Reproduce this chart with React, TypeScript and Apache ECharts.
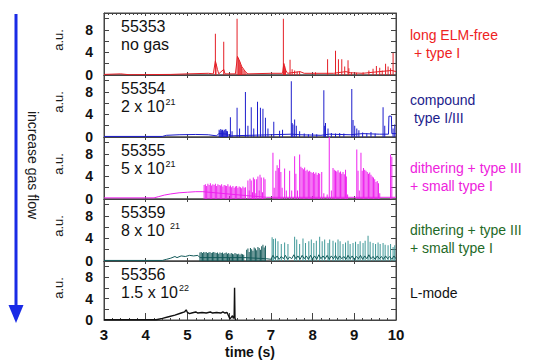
import React, { useEffect, useRef } from "react";
import * as echarts from "echarts";

const FONT = "'Liberation Sans', Arial, Helvetica, sans-serif";

// x axis (time, s)
const xMin = 3;
const xMax = 10;
const yTickLabels = [0, 4, 8];

// ---- panel 1: 55353, no gas (red)
const base1: number[][] = [[3.0,0.1],[3.4,0.2],[3.6,0.05],[4.6,0.1],[5.0,0.2],[5.5,0.3],[5.62,0.2],[5.67,2.5],[5.72,1.0],[5.75,0.2],[5.87,1.0],[5.9,0.2],[6.15,0.2],[6.2,3.3],[6.25,2.5],[6.3,1.5],[6.35,1.0],[6.4,0.5],[6.45,0.2],[7.0,0.3],[7.28,0.3],[7.31,2.0],[7.36,0.8],[7.4,0.3],[7.7,0.6],[7.8,0.3],[8.5,0.3],[8.8,0.6],[8.9,0.4],[9.2,0.3],[9.6,0.6],[9.9,0.8],[10,0.6]];
const spikes1: number[][] = [[5.67,7.3],[5.685,2.0],[5.87,5.9],[6.19,10.0],[6.22,3.0],[6.24,2.6],[6.26,2.2],[6.28,1.8],[6.3,1.5],[6.33,1.1],[6.36,0.8],[6.4,0.5],[7.30,10.0],[7.31,2.1],[7.33,1.6],[7.35,1.0],[7.46,2.7],[7.51,1.0],[7.57,0.8],[7.63,0.6],[7.69,0.6],[8.07,0.5],[8.36,2.8],[8.55,4.3],[8.62,2.8],[8.70,2.8],[8.77,1.5],[8.85,2.6],[8.87,1.2],[8.93,0.5],[9.05,0.4],[9.21,0.5],[9.35,0.8],[9.45,1.1],[9.53,1.6],[9.61,1.3],[9.67,0.8],[9.75,2.0],[9.81,1.5],[9.87,1.2],[9.93,3.9]];

// ---- panel 2: 55354, 2 x 10^21 (blue)
const base2: number[][] = [[3.0,0.1],[4.4,0.1],[4.5,0.3],[4.8,0.4],[5.2,0.45],[5.5,0.4],[5.7,0.2],[5.75,0.6],[5.97,0.5],[6.0,0.2],[7.5,0.5],[7.7,0.4],[8.2,0.3],[8.4,0.5],[8.9,0.4],[9.2,0.6],[9.6,0.5],[9.82,0.5],[9.83,3.7],[9.89,3.7],[9.9,0.6],[10,0.6]];
const spikes2: number[][] = [[5.76,1.3],[5.78,1.1],[5.8,1.4],[5.82,1.2],[5.84,1.3],[5.86,1.0],[5.88,1.3],[5.9,1.2],[5.92,1.4],[5.94,1.1],[5.96,1.0],[6.03,3.5],[6.07,1.0],[6.19,5.2],[6.25,1.5],[6.39,8.0],[6.45,2.0],[6.53,5.3],[6.59,1.5],[6.68,6.25],[6.75,5.2],[6.81,5.0],[6.87,3.4],[6.93,1.5],[7.07,2.7],[7.21,1.1],[7.28,1.3],[7.49,9.9],[7.51,2.5],[7.53,2.2],[7.57,3.1],[7.61,2.0],[7.69,1.0],[7.8,0.6],[7.9,0.5],[8.0,0.7],[8.1,0.5],[8.27,8.3],[8.29,2.0],[8.31,2.5],[8.37,1.5],[8.45,0.7],[8.55,0.6],[8.65,0.7],[8.75,0.6],[8.94,8.5],[8.97,3.0],[9.01,2.0],[9.06,1.5],[9.11,1.2],[9.2,0.8],[9.3,0.7],[9.4,0.9],[9.5,0.6],[9.69,5.3],[9.73,2.0],[9.93,1.5],[9.97,2.2]];

// ---- panel 3: 55355, 5 x 10^21 (magenta)
const base3: number[][] = [[3.0,0.2],[4.2,0.2],[4.3,0.4],[4.45,0.7],[4.6,0.9],[4.8,1.1],[5.0,1.2],[5.2,1.3],[5.37,1.3],[6.42,0.6],[6.9,0.3],[10,0.3]];
const dither3: number[][] = [[5.40,2.5],[5.43,2.6],[5.46,2.3],[5.49,2.7],[5.52,2.5],[5.55,2.8],[5.58,2.4],[5.61,2.6],[5.64,2.5],[5.67,2.7],[5.70,2.3],[5.73,2.6],[5.76,2.5],[5.79,2.4],[5.82,2.6],[5.85,2.2],[5.88,2.5],[5.91,2.4],[5.94,2.3],[5.97,2.6],[6.00,2.2],[6.03,2.4],[6.06,2.1],[6.09,2.3],[6.12,2.0],[6.15,2.2],[6.18,2.3],[6.21,2.0],[6.24,2.2],[6.27,2.1],[6.30,1.9],[6.33,2.2],[6.36,2.0],[6.39,2.1]];
const spikes3: number[][] = [[6.45,3.3],[6.48,1.5],[6.5,3.6],[6.53,3.3],[6.56,1.2],[6.58,3.8],[6.61,3.5],[6.64,1.0],[6.66,3.5],[6.69,4.0],[6.72,1.5],[6.74,4.3],[6.77,3.8],[6.8,1.2],[6.83,3.8],[6.86,3.5],[7.05,8.2],[7.08,2.0],[7.12,5.0],[7.15,6.0],[7.18,5.5],[7.21,7.0],[7.24,4.8],[7.27,2.0],[7.33,5.4],[7.37,1.5],[7.45,5.0],[7.5,1.5],[7.57,7.6],[7.6,4.5],[7.64,1.5],[7.69,7.9],[7.72,5.7],[7.75,5.5],[7.78,5.3],[7.81,5.6],[7.84,5.0],[7.87,5.2],[7.9,4.9],[7.93,5.0],[7.96,4.8],[7.99,4.6],[8.02,4.8],[8.05,4.5],[8.08,4.7],[8.11,4.3],[8.14,4.6],[8.17,4.5],[8.22,4.8],[8.27,1.0],[8.35,0.8],[8.40,11],[8.45,1.5],[8.49,5.5],[8.52,5.2],[8.55,5.0],[8.58,4.9],[8.61,5.1],[8.64,4.7],[8.67,4.9],[8.7,4.5],[8.73,4.8],[8.76,4.4],[8.79,5.2],[8.81,4.0],[8.84,0.8],[9.06,8.8],[9.09,5.0],[9.12,1.5],[9.16,8.2],[9.19,5.0],[9.22,5.5],[9.25,5.2],[9.28,5.0],[9.31,4.8],[9.34,4.5],[9.37,4.7],[9.4,4.3],[9.43,4.0],[9.46,3.8],[9.49,3.5],[9.52,3.0],[9.55,3.2],[9.58,2.8],[9.61,1.0],[9.87,7.9],[9.9,7.5]];

// ---- panel 4: 55359, 8 x 10^21 (teal)
const base4: number[][] = [[3.0,0.1],[4.4,0.1],[4.5,0.3],[4.6,0.5],[4.7,0.8],[4.75,0.6],[4.85,0.9],[4.95,0.8],[5.05,1.0],[5.15,0.9],[5.25,1.0],[5.3,0.6],[6.38,0.6],[6.9,0.4],[7.0,0.3],[7.05,1.0],[7.1,0.4],[7.15,0.9],[7.2,0.3],[7.25,0.8],[7.3,0.4],[7.35,1.0],[7.4,0.3],[7.45,0.7],[7.5,0.4],[7.55,1.1],[7.6,0.4],[7.65,0.9],[7.7,0.3],[7.75,1.0],[7.8,0.4],[7.85,0.9],[7.9,0.3],[7.95,1.0],[8.0,0.4],[8.05,0.9],[8.1,0.3],[8.15,1.1],[8.2,0.4],[8.25,0.9],[8.3,0.4],[8.35,1.0],[8.4,0.3],[8.45,0.9],[8.5,0.4],[8.55,1.0],[8.6,0.3],[8.65,0.9],[8.7,0.4],[8.75,0.8],[8.8,0.3],[8.85,1.0],[8.9,0.4],[8.95,0.9],[9.0,0.3],[9.05,0.8],[9.1,0.4],[9.15,1.0],[9.2,0.3],[9.25,0.9],[9.3,0.4],[9.35,1.1],[9.4,0.4],[9.45,0.8],[9.5,0.3],[9.55,0.9],[9.6,0.4],[9.65,0.8],[9.7,0.3],[9.75,0.9],[9.8,0.4],[9.85,0.8],[9.9,0.3],[9.95,0.9],[10.0,0.4]];
const dither4: number[][] = [[5.30,1.5],[5.33,1.6],[5.36,1.4],[5.39,1.6],[5.42,1.5],[5.45,1.6],[5.48,1.4],[5.51,1.5],[5.54,1.6],[5.57,1.4],[5.60,1.5],[5.63,1.6],[5.66,1.5],[5.69,1.4],[5.72,1.5],[5.75,1.3],[5.78,1.5],[5.81,1.4],[5.84,1.5],[5.87,1.3],[5.90,1.4],[5.93,1.5],[5.96,1.3],[5.99,1.4],[6.02,1.2],[6.05,1.4],[6.08,1.3],[6.11,1.2],[6.14,1.4],[6.17,1.3],[6.20,1.2],[6.23,1.3],[6.26,1.1],[6.29,1.3],[6.32,1.2],[6.35,1.1],[6.42,2.0],[6.45,2.2],[6.48,1.6],[6.51,2.3],[6.54,2.1],[6.57,1.8],[6.60,2.4],[6.63,2.2],[6.66,1.9],[6.69,2.5],[6.72,2.3],[6.75,2.0],[6.78,2.6],[6.81,2.9],[6.84,2.4],[6.87,2.7]];
const spikes4: number[][] = [[7.03,4.2],[7.06,3.9],[7.11,4.0],[7.17,3.5],[7.25,3.0],[7.33,3.3],[7.41,3.0],[7.57,4.3],[7.62,3.8],[7.69,3.0],[7.77,4.0],[7.83,3.2],[7.91,3.5],[7.97,3.8],[8.03,3.2],[8.09,3.6],[8.17,4.3],[8.23,3.5],[8.29,3.8],[8.37,3.2],[8.41,3.8],[8.49,3.6],[8.55,3.3],[8.61,3.8],[8.66,3.5],[8.73,3.0],[8.79,3.3],[8.85,3.6],[8.90,3.0],[8.97,3.2],[9.03,3.4],[9.09,3.0],[9.14,3.5],[9.21,3.2],[9.26,3.6],[9.33,4.5],[9.38,3.4],[9.45,3.2],[9.51,3.0],[9.57,3.3],[9.62,3.0],[9.69,3.2],[9.74,2.9],[9.81,2.8],[9.87,3.0],[9.93,2.5],[9.97,2.8]];

// ---- panel 5: 55356, 1.5 x 10^22 (black, L-mode)
const base5: number[][] = [[3.0,0.05],[4.25,0.05],[4.4,0.3],[4.55,0.6],[4.7,0.9],[4.85,1.3],[4.93,1.5],[4.97,1.9],[5.0,1.4],[5.05,1.2],[5.1,1.3],[5.2,1.5],[5.25,1.3],[5.35,1.4],[5.45,1.3],[5.55,1.5],[5.6,1.3],[5.7,1.4],[5.8,1.3],[5.85,1.5],[5.9,1.3],[5.95,1.4],[5.98,0.9],[6.02,0.2],[6.05,0.5],[6.08,0.8],[6.1,0.3],[6.12,0.6],[6.13,6.0],[6.14,0.3],[6.16,0.0]];

const shots = ["55353", "55354", "55355", "55359", "55356"];
const gasMain = ["no gas", "2 x 10", "5 x 10", "8 x 10 ", "1.5 x 10"];
const gasExp = ["", "21", "21", "21", "22"];
const regimeLines = [
  ["long ELM-free", " + type I"],
  ["compound", " type I/III"],
  ["dithering + type III", "+ small type I"],
  ["dithering + type III", "+ small type I"],
  ["L-mode"],
];

const traceColors = ["#e41f26", "#1d1dcc", "#ee22ee", "#3f9898", "#111111"];
const darkTeal = "#145a5a";
const labelColors = ["#ee2222", "#1c1c8c", "#ee22dd", "#1f6a28", "#111111"];

const PANEL_TOP = 13;
const PANEL_H = 62;
const LEFT = 104;
const WIDTH = 292;

export default function App() {
  const ref = useRef<HTMLDivElement>(null);
  useEffect(() => {
    if (!ref.current) return;
    const chart = echarts.init(ref.current, undefined, { renderer: "svg" });
    const n = 5;
    const idx = [0, 1, 2, 3, 4];
    const grids = idx.map((i) => ({
      left: LEFT, width: WIDTH, top: PANEL_TOP + PANEL_H * i, height: PANEL_H,
      show: true, borderColor: "#444", borderWidth: 1, backgroundColor: "transparent",
    }));
    const axisLineStyle = { color: "#444", width: 1 };
    const xBottom = idx.map((i) => ({
      type: "value", gridIndex: i, min: xMin, max: xMax, interval: 1, position: "bottom",
      axisLine: { show: true, onZero: false, lineStyle: axisLineStyle },
      axisTick: { show: true, inside: true, length: i === n - 1 ? 7 : 3, lineStyle: axisLineStyle },
      minorTick: { show: i === n - 1, splitNumber: 5, length: 2, lineStyle: axisLineStyle },
      axisLabel: { show: i === n - 1, fontSize: 15, fontWeight: "bold", color: "#111", fontFamily: FONT, margin: 7 },
      splitLine: { show: false },
      name: i === n - 1 ? "time (s)" : "",
      nameLocation: "middle", nameGap: 25,
      nameTextStyle: { fontSize: 14, fontWeight: "bold", color: "#111", fontFamily: FONT },
    }));
    const xTop = idx.map((i) => ({
      type: "value", gridIndex: i, min: xMin, max: xMax, interval: 1, position: "top",
      axisLine: { show: true, onZero: false, lineStyle: axisLineStyle },
      axisTick: { show: true, inside: true, length: 3, lineStyle: axisLineStyle },
      minorTick: { show: i === 0, splitNumber: 10, length: 2, lineStyle: axisLineStyle },
      axisLabel: { show: false }, splitLine: { show: false },
    }));
    const yLeft = idx.map((i) => ({
      type: "value", gridIndex: i, min: 0, max: 11, interval: 2, position: "left",
      axisLine: { show: true, lineStyle: axisLineStyle },
      axisTick: { show: true, inside: true, length: 5, lineStyle: axisLineStyle },
      axisLabel: {
        show: true, fontSize: 14, fontWeight: "bold", color: "#111", fontFamily: FONT, margin: 11,
        showMaxLabel: false,
        formatter: (v: number) => (yTickLabels.includes(v) ? String(v) : ""),
      },
      splitLine: { show: false },
    }));
    const yRight = idx.map((i) => ({
      type: "value", gridIndex: i, min: 0, max: 11, interval: 2, position: "right",
      axisLine: { show: true, lineStyle: axisLineStyle },
      axisTick: { show: true, inside: true, length: 5, lineStyle: axisLineStyle },
      axisLabel: { show: false }, splitLine: { show: false },
    }));

    const bases = [base1, base2, base3, base4, base5];
    const barSets: any[][] = [
      spikes1,
      spikes2,
      [...dither3, ...spikes3],
      [...dither4.map((d) => ({ value: d, itemStyle: { color: darkTeal } })), ...spikes4],
      [],
    ];
    const series: any[] = [];
    idx.forEach((i) => {
      if (barSets[i].length) {
        series.push({
          type: "bar", xAxisIndex: i, yAxisIndex: i, data: barSets[i], barWidth: 1,
          itemStyle: { color: traceColors[i] }, silent: true, clip: true,
        });
      }
      series.push({
        type: "line", xAxisIndex: i, yAxisIndex: i, data: bases[i], symbol: "none",
        lineStyle: { color: i === 3 ? darkTeal : traceColors[i], width: i === 4 ? 1.4 : 1 },
        silent: true, clip: true,
      });
    });

    const graphics: any[] = [];
    // gas flow arrow
    graphics.push({ type: "line", shape: { x1: 16, y1: 14, x2: 16, y2: 308 }, style: { stroke: "#1a2be6", lineWidth: 3 } });
    graphics.push({ type: "polygon", shape: { points: [[8.5, 305], [23.5, 305], [16, 323]] }, style: { fill: "#1a2be6" } });
    graphics.push({
      type: "text", x: 33, y: 165, rotation: -Math.PI / 2,
      style: { text: "increase gas flow", fontSize: 14, fill: "#1a1a1a", fontFamily: FONT, align: "center", verticalAlign: "middle" },
    });
    idx.forEach((i) => {
      const top = PANEL_TOP + PANEL_H * i;
      graphics.push({
        type: "text", x: 58, y: top + 27, rotation: Math.PI / 2,
        style: { text: "a.u.", fontSize: 13, fill: "#1a1a1a", fontFamily: FONT, align: "center", verticalAlign: "middle" },
      });
      graphics.push({
        type: "text", x: 121, y: top + 13,
        style: { text: shots[i], fontSize: 16, fill: "#111", fontFamily: FONT, align: "left", verticalAlign: "middle" },
      });
      graphics.push({
        type: "text", x: 121, y: top + 31,
        style: {
          text: gasExp[i] ? `{m|${gasMain[i]}}{s|${gasExp[i]}}` : `{m|${gasMain[i]}}`,
          fontFamily: FONT, align: "left", verticalAlign: "middle",
          rich: {
            m: { fontSize: 16, fill: "#111", fontFamily: FONT, lineHeight: 18 },
            s: { fontSize: 9, fill: "#111", fontFamily: FONT, lineHeight: 10, verticalAlign: "top", padding: [0, 0, 0, 1] },
          },
        },
      });
      const lines = regimeLines[i];
      const y0 = [35, 100, 168, 230, 293][i];
      lines.forEach((t, k) => {
        graphics.push({
          type: "text", x: 410, y: y0 + 18 * k,
          style: { text: t, fontSize: 14, fill: labelColors[i], fontFamily: FONT, align: "left", verticalAlign: "middle" },
        });
      });
    });

    chart.setOption({
      animation: false,
      backgroundColor: "#ffffff",
      grid: grids,
      xAxis: [...xBottom, ...xTop],
      yAxis: [...yLeft, ...yRight],
      series,
      graphic: graphics,
    });
    return () => chart.dispose();
  }, []);
  return <div ref={ref} style={{ width: 535, height: 360, position: "absolute", left: 0, top: 0 }} />;
}
